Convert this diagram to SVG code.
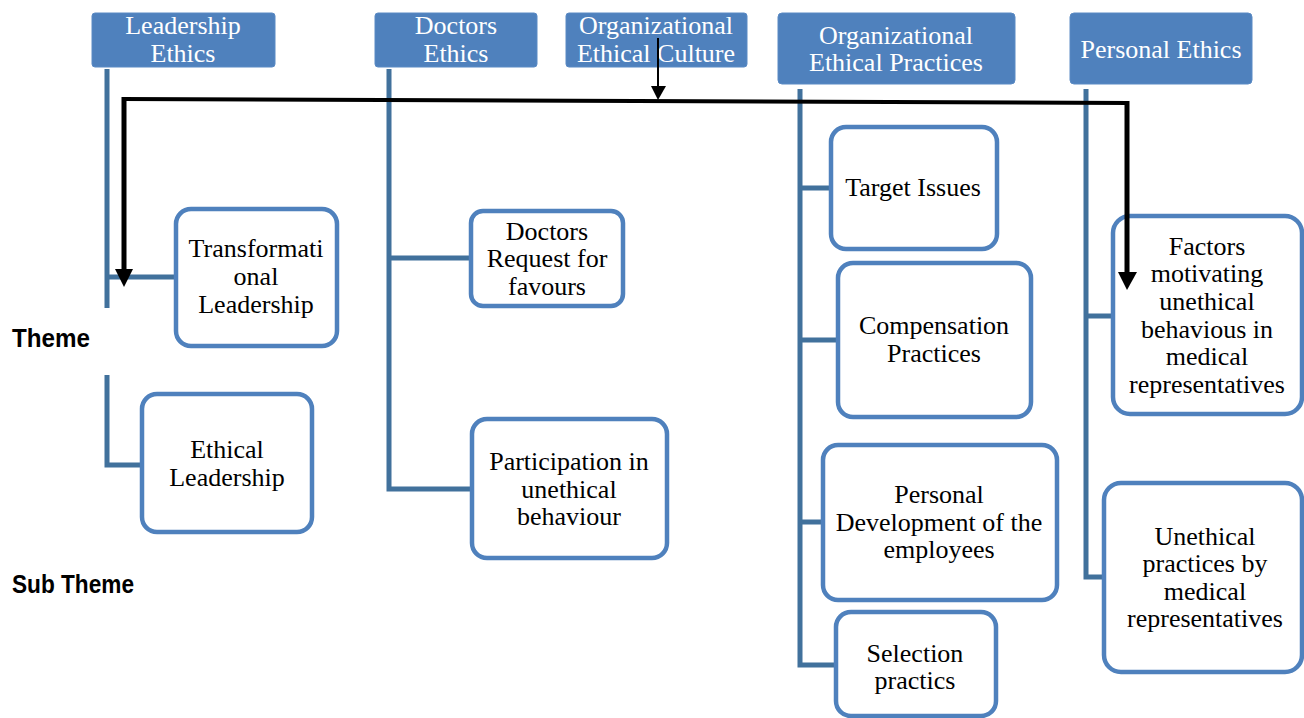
<svg xmlns="http://www.w3.org/2000/svg" width="1304" height="718" viewBox="0 0 1304 718">
  <style>
    .theme rect { fill: #4F81BD; stroke: #5B8AC4; stroke-width: 1; }
    .theme text { fill: #FFFFFF; font-family: "Liberation Serif", "Times New Roman", serif; font-size: 26px; text-anchor: middle; }
    .sub rect { fill: #FFFFFF; stroke: #4F81BD; stroke-width: 4.5; }
    .sub text { fill: #000000; font-family: "Liberation Serif", "Times New Roman", serif; font-size: 26px; text-anchor: middle; }
    .tree { fill: none; stroke: #41719C; stroke-width: 5; stroke-linejoin: miter; }
    .flow { fill: none; stroke: #000000; }
    .head { fill: #000000; }
    .label { font-family: "Liberation Sans", Arial, sans-serif; font-weight: bold; font-size: 25px; fill: #000000; }
  </style>

  <!-- tree connectors: theme to sub theme -->
  <g id="connectors">
    <path class="tree" d="M107,69 V308 M107,277 H176 M107,375 V465 H142"/>
    <path class="tree" d="M389,69 V489 H472 M389,258 H471"/>
    <path class="tree" d="M800,89 V665 H836 M800,188 H831 M800,340 H838 M800,522 H823"/>
    <path class="tree" d="M1086,89 V577 H1104 M1086,316 H1113"/>
  </g>

  <!-- themes -->
  <g id="leadership-ethics" class="theme">
    <rect x="92" y="13" width="183" height="54" rx="3"/>
    <text x="183" y="34">Leadership</text>
    <text x="183" y="62">Ethics</text>
  </g>
  <g id="doctors-ethics" class="theme">
    <rect x="375" y="13" width="162" height="54" rx="3"/>
    <text x="456" y="34">Doctors</text>
    <text x="456" y="62">Ethics</text>
  </g>
  <g id="organizational-ethical-culture" class="theme">
    <rect x="566" y="13" width="181" height="54" rx="3"/>
    <text x="656" y="34">Organizational</text>
    <text x="656" y="62">Ethical Culture</text>
  </g>
  <g id="organizational-ethical-practices" class="theme">
    <rect x="778" y="13" width="237" height="71" rx="4"/>
    <text x="896" y="44">Organizational</text>
    <text x="896" y="71">Ethical Practices</text>
  </g>
  <g id="personal-ethics" class="theme">
    <rect x="1070" y="13" width="182" height="71" rx="4"/>
    <text x="1161" y="58">Personal Ethics</text>
  </g>

  <!-- sub themes -->
  <g id="transformational-leadership" class="sub">
    <rect x="176" y="209" width="161" height="137" rx="15"/>
    <text x="256" y="257">Transformati</text>
    <text x="256" y="285">onal</text>
    <text x="256" y="313">Leadership</text>
  </g>
  <g id="ethical-leadership" class="sub">
    <rect x="142" y="394" width="170" height="138" rx="15"/>
    <text x="227" y="458">Ethical</text>
    <text x="227" y="486">Leadership</text>
  </g>
  <g id="doctors-request" class="sub">
    <rect x="471" y="211" width="152" height="95" rx="12"/>
    <text x="547" y="240">Doctors</text>
    <text x="547" y="267">Request for</text>
    <text x="547" y="295">favours</text>
  </g>
  <g id="participation" class="sub">
    <rect x="472" y="419" width="195" height="139" rx="15"/>
    <text x="569" y="470">Participation in</text>
    <text x="569" y="498">unethical</text>
    <text x="569" y="525">behaviour</text>
  </g>
  <g id="target-issues" class="sub">
    <rect x="831" y="127" width="166" height="122" rx="15"/>
    <text x="913" y="196">Target Issues</text>
  </g>
  <g id="compensation-practices" class="sub">
    <rect x="838" y="263" width="193" height="154" rx="15"/>
    <text x="934" y="334">Compensation</text>
    <text x="934" y="362">Practices</text>
  </g>
  <g id="personal-development" class="sub">
    <rect x="823" y="445" width="234" height="155" rx="15"/>
    <text x="939" y="503">Personal</text>
    <text x="939" y="531">Development of the</text>
    <text x="939" y="558">employees</text>
  </g>
  <g id="selection-practics" class="sub">
    <rect x="836" y="612" width="160" height="104" rx="15"/>
    <text x="915" y="662">Selection</text>
    <text x="915" y="689">practics</text>
  </g>
  <g id="factors-motivating" class="sub">
    <rect x="1113" y="216" width="189" height="198" rx="17"/>
    <text x="1207" y="255">Factors</text>
    <text x="1207" y="282">motivating</text>
    <text x="1207" y="310">unethical</text>
    <text x="1207" y="338">behavious in</text>
    <text x="1207" y="365">medical</text>
    <text x="1207" y="393">representatives</text>
  </g>
  <g id="unethical-practices" class="sub">
    <rect x="1104" y="483" width="198" height="189" rx="17"/>
    <text x="1205" y="545">Unethical</text>
    <text x="1205" y="572">practices by</text>
    <text x="1205" y="600">medical</text>
    <text x="1205" y="627">representatives</text>
  </g>

  <!-- black flow arrows, drawn over the boxes -->
  <g id="flow-connectors">
    <path class="flow" stroke-width="2" d="M658,38 V87"/>
    <polygon class="head" points="651,86 666,86 658,100"/>
    <path class="flow" stroke-width="4" d="M122,99 L1129,103"/>
    <path class="flow" stroke-width="5" d="M124,97 V271"/>
    <polygon class="head" points="115,269 133,269 124,287"/>
    <path class="flow" stroke-width="5" d="M1127,101 V274"/>
    <polygon class="head" points="1118,272 1137,272 1127,290"/>
  </g>

  <!-- level labels -->
  <g id="level-labels">
    <text class="label" x="12" y="347" textLength="78" lengthAdjust="spacingAndGlyphs">Theme</text>
    <text class="label" x="12" y="593" textLength="122" lengthAdjust="spacingAndGlyphs">Sub Theme</text>
  </g>
</svg>
